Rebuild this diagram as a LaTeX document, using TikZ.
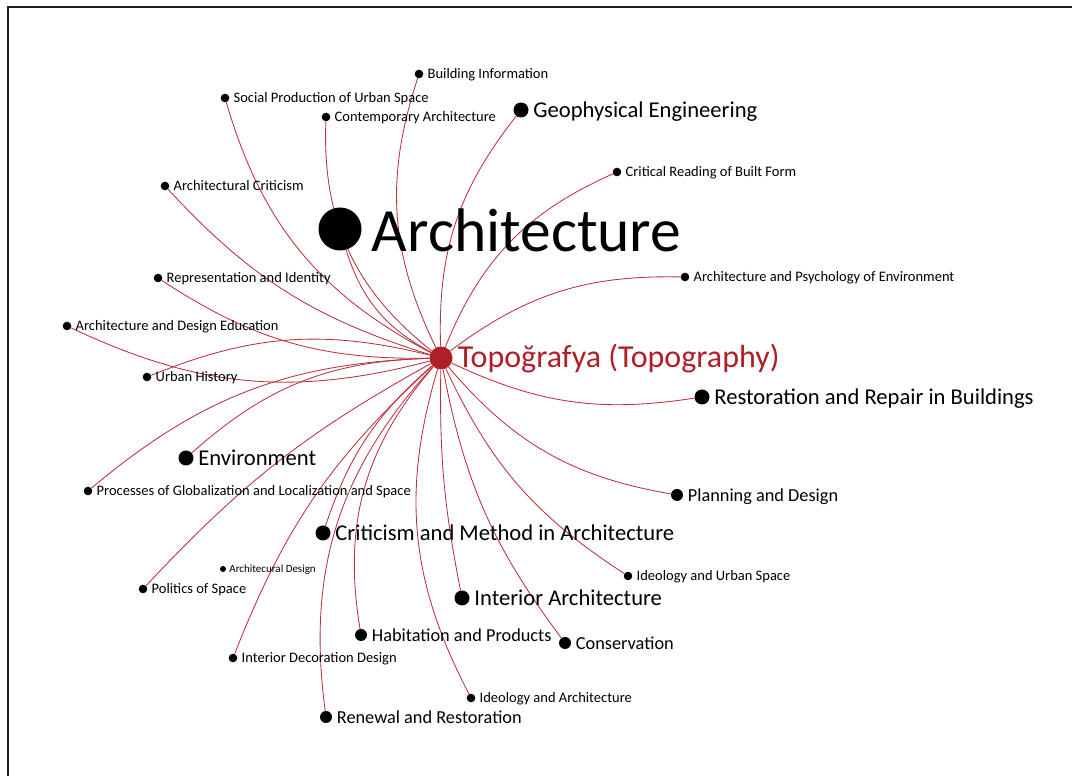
\documentclass[tikz,border=0pt]{standalone}
\usepackage{fontspec}
\setmainfont{Carlito}
\usetikzlibrary{backgrounds}
\definecolor{edgered}{RGB}{185,50,60}
\definecolor{topored}{RGB}{176,30,38}
\definecolor{framegray}{RGB}{30,30,30}
\begin{document}
\begin{tikzpicture}[x=1pt,y=1pt,
  dot/.style={circle,fill=black,inner sep=0pt,draw=none},
  dXL/.style={dot,minimum size=43pt},
  dL/.style={dot,minimum size=15pt},
  dM/.style={dot,minimum size=12pt},
  dS/.style={dot,minimum size=8.6pt},
  dXS/.style={dot,minimum size=6pt},
  dC/.style={dot,fill=topored,minimum size=23pt},
  lbl/.style={anchor=base west,inner sep=0pt,text=black},
  tXS/.style={lbl,font=\fontsize{11}{11}\selectfont,xshift=3pt,yshift=-4pt},
  tS/.style={lbl,font=\fontsize{14.5}{14.5}\selectfont,xshift=4pt,yshift=-5pt},
  tM/.style={lbl,font=\fontsize{18.3}{18.3}\selectfont,xshift=4.5pt,yshift=-6.6pt},
  tL/.style={lbl,font=\fontsize{22.6}{22.6}\selectfont,xshift=4.5pt,yshift=-8pt},
  tXL/.style={lbl,font=\fontsize{61.5}{61.5}\selectfont,xshift=10pt,yshift=-23pt},
  tC/.style={lbl,font=\fontsize{32}{32}\selectfont,text=topored,xshift=5pt,yshift=-10pt},
  edge/.style={draw=edgered,line width=0.85pt},
  frame/.style={draw=framegray,line width=2.2pt}
]
\useasboundingbox (0,0) rectangle (1072,776);
\coordinate (fb) at (8,0);
\coordinate (fc) at (8,769);
\coordinate (fr) at (1072,769);
\draw[frame] (fb) -- (fc) -- (fr);

% centre
\node[dC] (c) at (441,418) {};
\node[tC] (c-t) at (c.east) {Topoğrafya (Topography)};

% nodes
\node[dS] (bi) at (419,702) {};
\node[tS] (bi-t) at (bi.east) {Building Information};
\node[dS] (sp) at (225,678) {};
\node[tS] (sp-t) at (sp.east) {Social Production of Urban Space};
\node[dS] (ca) at (326,659) {};
\node[tS] (ca-t) at (ca.east) {Contemporary Architecture};
\node[dL] (ge) at (521,666) {};
\node[tL] (ge-t) at (ge.east) {Geophysical Engineering};
\node[dS] (cr) at (617,604) {};
\node[tS] (cr-t) at (cr.east) {Critical Reading of Built Form};
\node[dS] (ac) at (165,590) {};
\node[tS] (ac-t) at (ac.east) {Architectural Criticism};
\node[dXL] (ar) at (340,547) {};
\node[tXL] (ar-t) at (ar.east) {Architecture};
\node[dS] (ri) at (158,498) {};
\node[tS] (ri-t) at (ri.east) {Representation and Identity};
\node[dS] (ap) at (685,499) {};
\node[tS] (ap-t) at (ap.east) {Architecture and Psychology of Environment};
\node[dS] (ade) at (67,450) {};
\node[tS] (ade-t) at (ade.east) {Architecture and Design Education};
\node[dS] (uh) at (147,399) {};
\node[tS] (uh-t) at (uh.east) {Urban History};
\node[dL] (rr) at (702,379) {};
\node[tL] (rr-t) at (rr.east) {Restoration and Repair in Buildings};
\node[dL] (en) at (186,318) {};
\node[tL] (en-t) at (en.east) {Environment};
\node[dS] (pg) at (88,285) {};
\node[tS] (pg-t) at (pg.east) {Processes of Globalization and Localization and Space};
\node[dM] (pd) at (677,281) {};
\node[tM] (pd-t) at (pd.east) {Planning and Design};
\node[dL] (cm) at (323,243) {};
\node[tL] (cm-t) at (cm.east) {Criticism and Method in Architecture};
\node[dXS] (ard) at (223,207) {};
\node[tXS] (ard-t) at (ard.east) {Architecural Design};
\node[dS] (iu) at (628,200) {};
\node[tS] (iu-t) at (iu.east) {Ideology and Urban Space};
\node[dS] (ps) at (143,187) {};
\node[tS] (ps-t) at (ps.east) {Politics of Space};
\node[dL] (ia) at (462,178) {};
\node[tL] (ia-t) at (ia.east) {Interior Architecture};
\node[dM] (hp) at (361,141) {};
\node[tM] (hp-t) at (hp.east) {Habitation and Products};
\node[dM] (cv) at (565,133) {};
\node[tM] (cv-t) at (cv.east) {Conservation};
\node[dS] (idd) at (233,118) {};
\node[tS] (idd-t) at (idd.east) {Interior Decoration Design};
\node[dS] (iar) at (471,78) {};
\node[tS] (iar-t) at (iar.east) {Ideology and Architecture};
\node[dM] (rn) at (326,59) {};
\node[tM] (rn-t) at (rn.east) {Renewal and Restoration};

\begin{scope}[on background layer]
\draw[edge] (c) to[bend left=22] (bi);
\draw[edge] (c) to[bend left=23] (sp);
\draw[edge] (c) to[bend left=27] (ca);
\draw[edge] (c) to[bend left=20] (ge);
\draw[edge] (c) to[bend left=22] (cr);
\draw[edge] (c) to[bend left=15] (ac);
\draw[edge] (c) to[bend left=22] (ar);
\draw[edge] (c) to[bend left=17] (ri);
\draw[edge] (c) to[bend left=19] (ap);
\draw[edge] (c) to[bend left=20] (ade);
\draw[edge] (c) to[bend right=18] (uh);
\draw[edge] (c) to[bend right=17] (rr);
\draw[edge] (c) to[bend right=20] (en);
\draw[edge] (c) to[bend right=19] (pg);
\draw[edge] (c) to[bend right=20] (pd);
\draw[edge] (c) to[bend right=15] (cm);
\draw[edge] (c) to[bend right=16] (iu);
\draw[edge] (c) to[bend right=9] (ps);
\draw[edge] (c) to[bend right=6] (ia);
\draw[edge] (c) to[bend right=25] (hp);
\draw[edge] (c) to[bend right=13] (cv);
\draw[edge] (c) to[bend right=13] (idd);
\draw[edge] (c) to[bend right=22] (iar);
\draw[edge] (c) to[bend right=25] (rn);
\end{scope}
\end{tikzpicture}
\end{document}
